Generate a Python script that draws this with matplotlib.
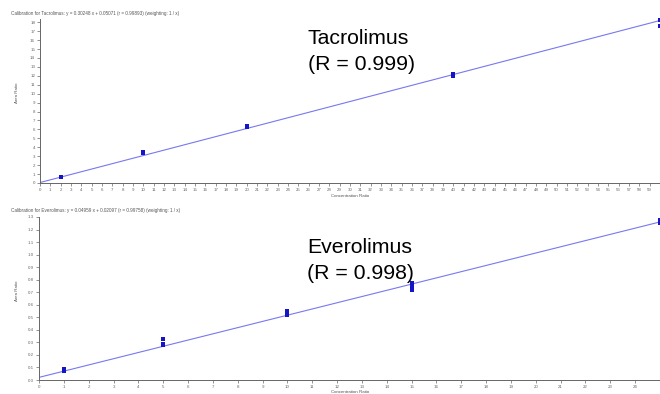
#!/usr/bin/env python3
import numpy as np
from matplotlib import pyplot as plt

# Tacrolimus calibration
tac_conc = [2, 2, 10, 10, 20, 20, 40, 40, 60, 60]
tac_ratio = [0.62, 0.66, 3.35, 3.48, 6.28, 6.40, 11.95, 12.25, 17.6, 18.3]
tac_slope = 0.30248
tac_intercept = 0.05071
tac_title = 'Calibration for Tacrolimus: y = 0.30248 x + 0.05071 (r = 0.99893) (weighting: 1 / x)'
tac_label = 'Tacrolimus\n(R = 0.999)'
tac_xticks = list(range(0, 60))
tac_yticks = list(range(0, 19))

# Everolimus calibration
eve_conc = [1, 1, 1, 5, 5, 5, 10, 10, 15, 15, 15, 25, 25]
eve_ratio = [0.07, 0.08, 0.09, 0.28, 0.29, 0.33, 0.52, 0.55, 0.72, 0.75, 0.77, 1.25, 1.28]
eve_slope = 0.04959
eve_intercept = 0.02097
eve_title = 'Calibration for Everolimus: y = 0.04959 x + 0.02097 (r = 0.99758) (weighting: 1 / x)'
eve_label = 'Everolimus\n(R = 0.998)'
eve_xticks = list(range(0, 25))
eve_yticks = [round(v * 0.1, 1) for v in range(0, 14)]

W, H = 660, 394
fig = plt.figure(figsize=(W / 100, H / 100), dpi=100)
plt.rcParams['font.family'] = ['Liberation Sans', 'DejaVu Sans']


def px(x0, y0, x1, y1):
    # pixel box (top-left, bottom-right) -> figure fraction rect
    return [x0 / W, 1 - y1 / H, (x1 - x0) / W, (y1 - y0) / H]


def panel(rect, conc, ratio, slope, intercept, xlim, ylim, xticks, yticks,
          yfmt, title, label, title_y, label_xy, xlab_y):
    ax = fig.add_axes(rect)
    ax.axline((0, intercept), slope=slope, color='#7878f0', lw=0.8, zorder=2)
    ax.plot(conc, ratio, 's', color='#1414c8', ms=2.8, mew=0, zorder=3,
            clip_on=False)
    ax.set_xlim(*xlim)
    ax.set_ylim(*ylim)
    ax.set_xticks(xticks)
    ax.set_yticks(yticks)
    ax.set_yticklabels([yfmt.format(v) for v in yticks])
    for s in ['top', 'right']:
        ax.spines[s].set_visible(False)
    for s in ['left', 'bottom']:
        ax.spines[s].set_color('#666666')
        ax.spines[s].set_linewidth(0.7)
    ax.tick_params(labelsize=3.2, colors='#666666', length=2, width=0.5, pad=1.5)
    fig.text(11 / W, 1 - title_y / H, title, fontsize=3.3, color='#555555',
             va='center', ha='left')
    fig.text(17 / W, rect[1] + rect[3] / 2 + 0.02, 'Area Ratio', fontsize=3.2,
             color='#555555', rotation=90, va='center', ha='center')
    fig.text(350 / W, 1 - xlab_y / H, 'Concentration Ratio', fontsize=3.2,
             color='#555555', va='center', ha='center')
    fig.text(label_xy[0] / W, 1 - label_xy[1] / H, label, fontsize=15.3,
             color='black', va='top', ha='left', linespacing=1.45)
    return ax


panel(px(40, 18.7, 660, 183), tac_conc, tac_ratio, tac_slope, tac_intercept,
      (0, 60), (0, 18.4), tac_xticks, tac_yticks, '{:d}', tac_title, tac_label,
      14, (308, 29), 196)
panel(px(39, 217, 660, 380), eve_conc, eve_ratio, eve_slope, eve_intercept,
      (0, 25), (0, 1.3), eve_xticks, eve_yticks, '{:.1f}', eve_title, eve_label,
      210, (307, 238), 392)

plt.savefig('out.png', dpi=100)
